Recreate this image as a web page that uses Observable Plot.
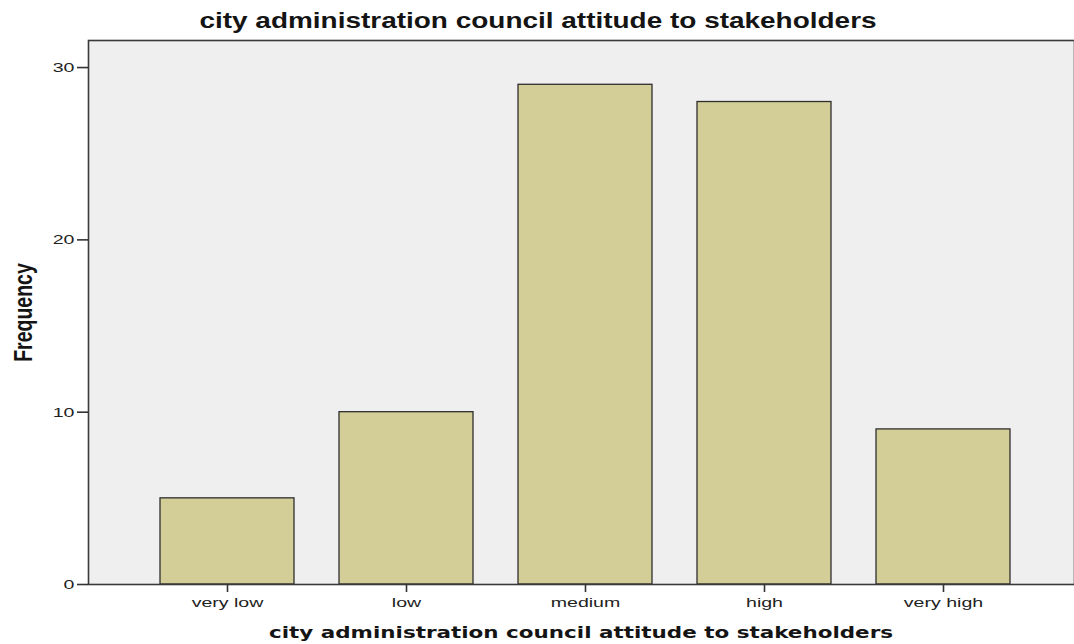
<!DOCTYPE html>
<html><head><meta charset="utf-8">
<script src="https://cdn.jsdelivr.net/npm/d3@7"></script>
<script src="https://cdn.jsdelivr.net/npm/@observablehq/plot@0.6"></script>
<style>
body{margin:0;background:#fff;width:1074px;height:644px;overflow:hidden;position:relative;font-family:"Liberation Sans",Arial,sans-serif;}
#title{position:absolute;top:9px;left:0;width:1076px;line-height:24px;text-align:center;font-weight:bold;font-size:21.5px;color:#141414;transform:scaleX(1.3);transform-origin:538px 0;white-space:nowrap;}
#chart{position:absolute;top:0;left:0;}
#xlabel{position:absolute;top:623px;left:88px;width:986px;line-height:20px;text-align:center;font-family:"DejaVu Sans",sans-serif;font-weight:bold;font-size:16.5px;color:#141414;transform:scaleX(1.3);transform-origin:493px 0;white-space:nowrap;}
</style>
</head><body>
<div id="chart"></div>
<div id="title">city administration council attitude to stakeholders</div>
<div id="xlabel">city administration council attitude to stakeholders</div>
<script>
const categories = ["very low", "low", "medium", "high", "very high"];
const frequencies = [5, 10, 29, 28, 9];
const yTicks = [0, 10, 20, 30];

const data = categories.map((c, i) => ({category: c, frequency: frequencies[i]}));

const chart = Plot.plot({
  width: 1074,
  height: 644,
  marginTop: 40,
  marginBottom: 60,
  marginLeft: 88,
  marginRight: 0,
  style: {fontFamily: "'Liberation Sans', Arial, sans-serif", color: "#222", background: "transparent"},
  x: {domain: categories, paddingInner: 0.25, paddingOuter: 0.379, align: 0.53, label: null},
  y: {domain: [0, 31.57], label: null},
  marks: [
    Plot.frame({fill: "#efefef", stroke: null}),
    Plot.barY(data, {x: "category", y: "frequency", fill: "#d3ce97", stroke: "#2e2e2e", strokeWidth: 1.3}),
    Plot.frame({stroke: "#3a3a3a", strokeWidth: 1.6, fill: null}),
    Plot.axisX({tickSize: 8, tickPadding: 5, fontSize: 13.5, stroke: "#333", strokeWidth: 1.6, label: null}),
    Plot.axisY({ticks: yTicks, tickSize: 11, tickPadding: 3, fontSize: 13.5, stroke: "#333", strokeWidth: 1.6,
      label: "Frequency", labelAnchor: "center", labelArrow: "none", labelOffset: 75})
  ]
});
document.getElementById("chart").appendChild(chart);

// widen the tick labels (the reference is stretched horizontally)
chart.querySelectorAll('g[aria-label="x-axis tick label"] text, g[aria-label="y-axis tick label"] text').forEach(t => {
  const tr = t.getAttribute("transform") || "";
  t.setAttribute("transform", tr + " scale(1.45,1)");
  t.style.fill = "#222";
});
chart.querySelectorAll('g[aria-label="y-axis label"] text').forEach(t => {
  t.style.fontWeight = "bold";
  t.style.fontSize = "19.5px";
  t.style.fill = "#141414";
  const tr = t.getAttribute("transform") || "";
  t.setAttribute("transform", tr + " scale(1,1.3)");
});
</script>
</body></html>
